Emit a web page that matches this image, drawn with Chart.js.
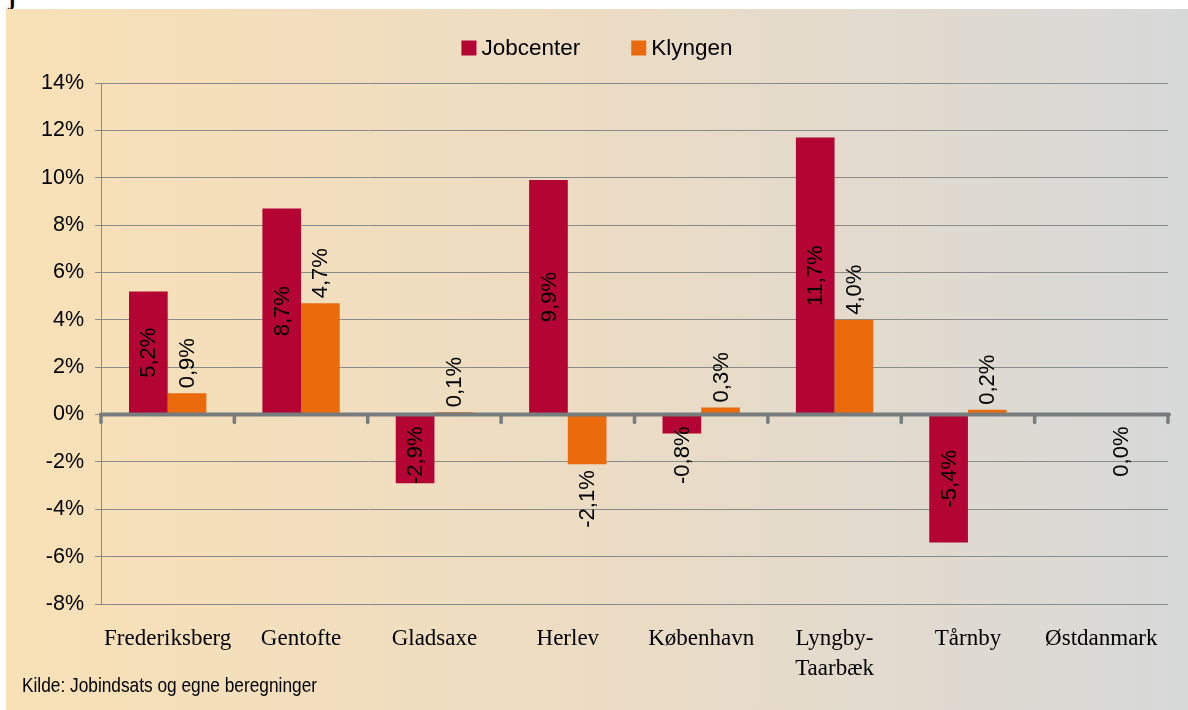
<!DOCTYPE html>
<html>
<head>
<meta charset="utf-8">
<script src="https://cdn.jsdelivr.net/npm/chart.js@4"></script>
<style>
  html, body { margin: 0; padding: 0; background: #fff; }
  body { width: 1188px; height: 710px; position: relative; overflow: hidden; }
  .cut { position: absolute; left: 8px; top: -15px; font: bold 22px "Liberation Serif", serif; color: #000; }
  .box { position: absolute; left: 6px; top: 9px; width: 1182px; height: 701px;
         background: linear-gradient(to right, #f9e1b6 0%, #ecdcc4 50%, #d7d9d9 100%); }
</style>
</head>
<body>
<div class="cut">j</div>
<div class="box"><canvas id="chart" width="1182" height="701"></canvas></div>
<script>
// Data
const categories = ['Frederiksberg', 'Gentofte', 'Gladsaxe', 'Herlev', 'København', ['Lyngby-', 'Taarbæk'], 'Tårnby', 'Østdanmark'];
const jobcenter = [5.2, 8.7, -2.9, 9.9, -0.8, 11.7, -5.4, null];
const klyngen = [0.9, 4.7, 0.1, -2.1, 0.3, 4.0, 0.2, 0.0];
const yMin = -8, yMax = 14, yStep = 2;
const sourceNote = 'Kilde: Jobindsats og egne beregninger';

const fmt = v => v.toFixed(1).replace('.', ',') + '%';

// legend drawn at the top, centred on the canvas, plus source note
const topLegend = {
    id: 'topLegend',
    afterDraw(chart) {
        const ctx = chart.ctx;
        ctx.save();
        ctx.font = '22.5px "Liberation Sans", Arial, sans-serif';
        ctx.textBaseline = 'middle';
        const items = chart.data.datasets.map(ds => ({ label: ds.label, color: ds.backgroundColor }));
        const gap = 51, box = 15, boxGap = 5;
        const widths = items.map(it => box + boxGap + ctx.measureText(it.label).width);
        const total = widths.reduce((a, b) => a + b, 0) + gap * (items.length - 1);
        let x = (chart.width - total) / 2;
        const y = 39;
        items.forEach((it, i) => {
            ctx.fillStyle = it.color;
            ctx.fillRect(x, y - box / 2, box, box);
            ctx.fillStyle = '#000';
            ctx.fillText(it.label, x + box + boxGap, y + 1);
            x += widths[i] + gap;
        });
        // source note (narrow look)
        ctx.font = '21px "Liberation Sans", Arial, sans-serif';
        ctx.textBaseline = 'alphabetic';
        const nw = ctx.measureText(sourceNote).width;
        ctx.translate(16, 683);
        ctx.scale(295 / nw, 1);
        ctx.fillText(sourceNote, 0, 0);
        ctx.restore();
    }
};

// thick zero line with ticks at category borders, then the value labels
const zeroAndLabels = {
    id: 'zeroAndLabels',
    afterDatasetsDraw(chart) {
        const ctx = chart.ctx;
        const xs = chart.scales.x, ys = chart.scales.y;
        const y0 = ys.getPixelForValue(0);
        const n = categories.length;
        const w = (xs.right - xs.left) / n;
        ctx.save();
        ctx.strokeStyle = '#777c7e';
        ctx.lineCap = 'round';
        ctx.lineWidth = 4;
        ctx.beginPath();
        ctx.moveTo(xs.left, y0);
        ctx.lineTo(xs.right + 1, y0);
        ctx.stroke();
        ctx.lineWidth = 3.5;
        for (let i = 0; i <= n; i++) {
            const bx = xs.left + i * w;
            ctx.beginPath();
            ctx.moveTo(bx, y0);
            ctx.lineTo(bx, y0 + 8);
            ctx.stroke();
        }

        ctx.font = '22px "Liberation Sans", Arial, sans-serif';
        ctx.fillStyle = '#000';
        ctx.textAlign = 'center';
        ctx.textBaseline = 'middle';
        chart.data.datasets.forEach((ds, di) => {
            const meta = chart.getDatasetMeta(di);
            meta.data.forEach((bar, i) => {
                const v = ds.data[i];
                if (v === null || v === undefined) return;
                const txt = fmt(v);
                const tw = ctx.measureText(txt).width;
                let cy;
                if (di === 0) {
                    cy = (bar.y + bar.base) / 2;
                    if (v < 0) cy = Math.max(cy, y0 + 12 + tw / 2);
                } else {
                    if (v > 0) cy = bar.y - 5 - tw / 2;
                    else cy = Math.max(bar.y + 6, y0 + 12) + tw / 2;
                }
                ctx.save();
                ctx.translate(bar.x, cy);
                ctx.rotate(-Math.PI / 2);
                ctx.fillText(txt, 0, 1);
                ctx.restore();
            });
        });
        ctx.restore();
    }
};

const ctx = document.getElementById('chart').getContext('2d');
new Chart(ctx, {
    type: 'bar',
    data: {
        labels: categories,
        datasets: [
            { label: 'Jobcenter', data: jobcenter, backgroundColor: '#b30434' },
            { label: 'Klyngen', data: klyngen, backgroundColor: '#eb6a0c' }
        ]
    },
    options: {
        responsive: false,
        animation: false,
        devicePixelRatio: 1,
        layout: { padding: { top: 74, right: 20, bottom: 0, left: 0 } },
        datasets: { bar: { categoryPercentage: 0.58, barPercentage: 1.0 } },
        plugins: {
            legend: { display: false },
            tooltip: { enabled: false }
        },
        scales: {
            x: {
                grid: { display: false },
                border: { display: false },
                ticks: {
                    color: '#000',
                    padding: 12,
                    maxRotation: 0,
                    autoSkip: false,
                    font: { family: '"Liberation Serif", "Times New Roman", serif', size: 23, lineHeight: 1.3 }
                },
                afterFit(scale) { scale.height = 106; }
            },
            y: {
                min: yMin,
                max: yMax,
                ticks: {
                    stepSize: yStep,
                    color: '#000',
                    padding: 11,
                    font: { family: '"Liberation Sans", Arial, sans-serif', size: 21.5 },
                    callback: v => v + '%'
                },
                grid: { color: '#868b8c', lineWidth: 1, tickLength: 6 },
                border: { color: '#868b8c', width: 1 },
                afterFit(scale) { scale.width = 95; }
            }
        }
    },
    plugins: [topLegend, zeroAndLabels]
});
</script>
</body>
</html>
